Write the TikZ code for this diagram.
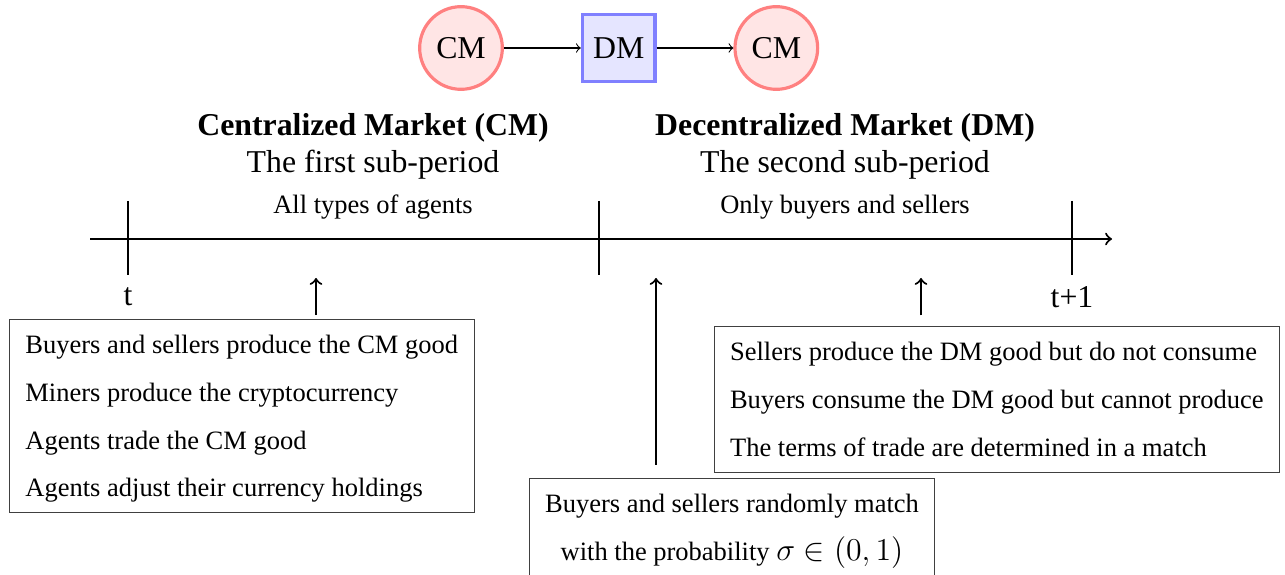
\documentclass[tikz,border=0pt]{standalone}
\usepackage{amsmath,amssymb}
\usepackage{fontspec}
\setmainfont{Liberation Serif}
\usetikzlibrary{positioning}

\begin{document}
\begin{tikzpicture}[x=0.3774pt,y=-0.3774pt]
	\tikzset{
		cmnode/.style={circle, draw=red!50, fill=red!10, very thick, minimum size=31.2pt, inner sep=0pt, font=\large},
		dmnode/.style={rectangle, draw=blue!50, fill=blue!10, very thick, minimum width=27.4pt, minimum height=25.2pt, inner sep=0pt, font=\large},
		eventbox/.style={draw=black!75, inner sep=6pt, text depth=0pt},
		flowarrow/.style={->, thin},
		uparrow/.style={->, thick},
	}
	\useasboundingbox (0,0) rectangle (1285,575);
	% top: the two sub-periods in a row
	\node[cmnode] (cm1) at (461,48) {CM};
	\node[dmnode, right=29pt of cm1] (dm) {DM};
	\node[cmnode, right=29pt of dm] (cm2) {CM};
	\draw[flowarrow] (cm1) -- (dm);
	\draw[flowarrow] (dm) -- (cm2);
	% headings
	\node[font=\large\bfseries] (cmtitle) at (373,128) {Centralized Market (CM)};
	\node[font=\large] (cmsub) at (373,165) {The first sub-period};
	\node (cmwho) at (373,207) {All types of agents};
	\node[font=\large\bfseries] (dmtitle) at (845,128) {Decentralized Market (DM)};
	\node[font=\large] (dmsub) at (845,165) {The second sub-period};
	\node (dmwho) at (845,207) {Only buyers and sellers};
	% time line
	\coordinate (tstart) at (90,239);
	\coordinate (tend) at (1112,239);
	\draw[->, thick] (tstart) -- (tend);
	\foreach \x in {128,599,1072}
	{
		\draw[thick] (\x,201) -- (\x,275);
	}
	\node[font=\large] (tlab) at (128,297) {t};
	\node[font=\large] (t1lab) at (1072,297) {t+1};
	% what happens
	\node[eventbox, anchor=north west, align=left] (cmbox) at (9,319)
		{Buyers and sellers produce the CM good\\[6pt]
		 Miners produce the cryptocurrency\\[6pt]
		 Agents trade the CM good\\[6pt]
		 Agents adjust their currency holdings};
	\node[eventbox, anchor=north, align=center] (matchbox) at (732,478)
		{Buyers and sellers randomly match\\[6pt]
		 with the probability {\large $\sigma \in (0,1)$}};
	\node[eventbox, anchor=north east, align=left] (dmbox) at (1280,326)
		{Sellers produce the DM good but do not consume\\[6pt]
		 Buyers consume the DM good but cannot produce\\[6pt]
		 The terms of trade are determined in a match};
	\coordinate (up1) at (316,278);
	\coordinate (up2) at (656,278);
	\coordinate (up3) at (921,278);
	\draw[uparrow] ([yshift=1.5pt]cmbox.north -| up1) -- (up1);
	\draw[uparrow] ([yshift=5pt]matchbox.north -| up2) -- (up2);
	\draw[uparrow] ([yshift=4pt]dmbox.north -| up3) -- (up3);
\end{tikzpicture}
\end{document}
